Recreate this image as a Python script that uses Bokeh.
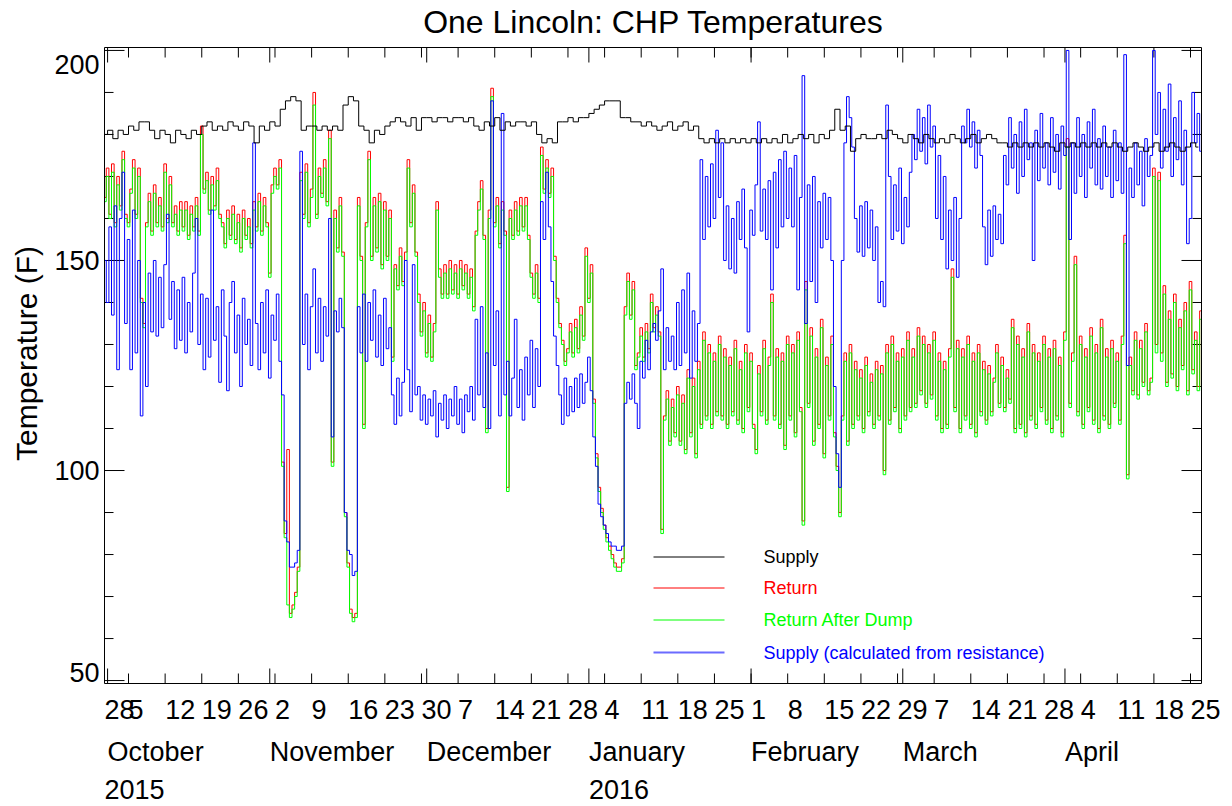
import numpy as np
from bokeh.plotting import figure
from bokeh.models import Range1d, Label
from bokeh.embed import file_html
from bokeh.resources import INLINE

# ---------------- data (days since 2015-09-28 00:00) ----------------
# Supply (black), daily samples starting 2015-09-30 12:00
supply = [
    180, 181, 179, 181, 180, 182, 181, 183, 183, 181,
    179, 181, 180, 178, 181, 180, 179, 181, 180, 182,
    183, 181, 182, 181, 183, 182, 181, 183, 182, 178,
    182, 181, 183, 182, 186, 188, 189, 188, 181, 182,
    182, 181, 182, 181, 182, 181, 187, 189, 188, 182,
    181, 178, 181, 180, 182, 183, 184, 183, 182, 184,
    181, 184, 184, 183, 184, 184, 183, 184, 184, 183,
    184, 182, 181, 183, 182, 184, 181, 183, 182, 183,
    183, 182, 183, 180, 178, 179, 178, 183, 183, 184,
    183, 184, 184, 185, 186, 187, 188, 188, 188, 184,
    184, 183, 183, 182, 183, 182, 181, 182, 183, 181,
    182, 183, 181, 182, 179, 178, 179, 178, 179, 178,
    179, 178, 179, 178, 179, 178, 179, 178, 179, 178,
    180, 178, 179, 180, 179, 180, 178, 180, 179, 181,
    186, 181, 182, 176, 179, 180, 179, 179, 180, 179,
    181, 180, 179, 178, 180, 179, 178, 180, 179, 178,
    179, 178, 180, 179, 178, 179, 180, 178, 179, 180,
    179, 178, 178, 177, 178, 177, 178, 177, 178, 177,
    178, 177, 176, 178, 177, 178, 177, 178, 177, 178,
    177, 178, 177, 178, 177, 176, 177, 178, 177, 176,
    177, 178, 176, 177, 178, 177, 176, 177, 178, 177,
]

# Return (red), half-day samples starting 2015-09-30 12:00
ret = [
    165, 172, 161, 173, 159, 170, 163, 176, 161, 159,
    167, 174, 161, 172, 141, 135, 159, 166, 157, 168,
    159, 165, 158, 173, 160, 170, 159, 163, 157, 164,
    158, 164, 156, 163, 158, 165, 157, 182, 167, 171,
    162, 170, 163, 172, 161, 159, 154, 162, 156, 163,
    155, 161, 153, 162, 156, 160, 154, 164, 158, 166,
    157, 165, 159, 147, 168, 172, 168, 174, 102, 85,
    105, 66, 68, 71, 77, 171, 161, 173, 159, 167,
    190, 161, 172, 166, 174, 164, 181, 102, 162, 153,
    165, 152, 90, 78, 67, 65, 66, 165, 151, 111,
    159, 176, 151, 165, 153, 166, 149, 164, 151, 162,
    127, 149, 144, 153, 145, 152, 174, 159, 168, 152,
    142, 133, 140, 128, 137, 127, 135, 164, 148, 142,
    149, 142, 150, 143, 149, 142, 150, 144, 149, 142,
    148, 139, 157, 164, 169, 156, 110, 162, 191, 159,
    165, 154, 164, 157, 96, 162, 156, 164, 157, 165,
    158, 165, 156, 147, 142, 149, 141, 177, 167, 174,
    166, 172, 151, 141, 135, 131, 126, 129, 135, 128,
    136, 129, 139, 132, 153, 141, 149, 117, 104, 96,
    91, 87, 84, 82, 80, 78, 77, 77, 79, 139,
    147, 137, 145, 125, 128, 134, 127, 135, 129, 142,
    134, 139, 133, 86, 113, 119, 107, 117, 109, 120,
    107, 118, 105, 124, 109, 122, 104, 126, 111, 133,
    113, 130, 111, 128, 114, 132, 113, 129, 111, 127,
    114, 131, 112, 126, 110, 130, 115, 128, 111, 105,
    125, 114, 131, 112, 127, 142, 113, 129, 111, 128,
    106, 132, 113, 130, 109, 133, 115, 88, 145, 116,
    134, 107, 129, 111, 136, 104, 127, 113, 132, 109,
    101, 90, 113, 128, 107, 130, 111, 126, 113, 124,
    110, 127, 114, 123, 111, 126, 113, 125, 100, 130,
    112, 132, 115, 128, 110, 129, 113, 133, 115, 129,
    116, 134, 119, 132, 116, 130, 118, 133, 113, 128,
    110, 126, 111, 129, 148, 115, 131, 110, 129, 113,
    132, 111, 128, 109, 130, 114, 126, 112, 125, 114,
    122, 130, 116, 127, 115, 124, 117, 136, 110, 132,
    111, 129, 109, 135, 113, 130, 111, 128, 115, 132,
    112, 129, 110, 131, 113, 127, 109, 133, 179, 116,
    128, 151, 114, 132, 111, 129, 115, 134, 112, 130,
    110, 136, 113, 129, 111, 131, 116, 128, 112, 132,
    156, 99, 127, 119, 133, 118, 131, 121, 135, 119,
    122, 172, 130, 171, 128, 144, 121, 138, 123, 142,
    120, 136, 125, 140, 119, 145, 124, 133, 120, 138,
]

# Return After Dump (green), half-day samples
ret_dump = [
    164, 170, 160, 171, 158, 168, 162, 174, 160, 158,
    166, 172, 160, 170, 140, 134, 158, 164, 156, 166,
    158, 163, 157, 171, 159, 168, 158, 161, 156, 162,
    157, 162, 155, 161, 157, 163, 156, 180, 166, 169,
    161, 168, 162, 169, 160, 158, 153, 160, 155, 161,
    154, 159, 152, 160, 155, 158, 153, 162, 157, 164,
    156, 163, 158, 146, 166, 170, 167, 172, 101, 84,
    68, 65, 67, 70, 76, 169, 160, 171, 158, 165,
    187, 160, 170, 165, 172, 163, 179, 101, 160, 152,
    163, 151, 89, 77, 66, 64, 65, 163, 150, 110,
    158, 174, 150, 163, 152, 164, 148, 162, 150, 160,
    126, 148, 143, 151, 144, 150, 172, 158, 166, 151,
    140, 132, 138, 127, 135, 126, 133, 162, 146, 141,
    147, 141, 148, 142, 147, 141, 148, 143, 147, 141,
    146, 138, 156, 162, 167, 155, 109, 160, 189, 158,
    163, 153, 162, 156, 95, 160, 155, 162, 156, 163,
    157, 163, 155, 146, 141, 147, 140, 175, 166, 172,
    165, 170, 150, 140, 134, 130, 125, 128, 133, 127,
    134, 128, 137, 131, 151, 140, 147, 116, 103, 95,
    90, 86, 83, 81, 79, 77, 76, 76, 78, 137,
    145, 136, 143, 124, 127, 132, 126, 133, 128, 140,
    133, 137, 132, 85, 112, 117, 106, 115, 108, 118,
    106, 116, 104, 122, 108, 120, 103, 124, 110, 131,
    112, 128, 110, 126, 113, 130, 112, 127, 110, 125,
    113, 129, 111, 124, 109, 128, 114, 126, 110, 104,
    123, 113, 129, 111, 125, 140, 112, 127, 110, 126,
    105, 130, 112, 128, 108, 131, 114, 87, 143, 115,
    132, 106, 127, 110, 134, 103, 125, 112, 130, 108,
    100, 89, 112, 126, 106, 128, 110, 124, 112, 122,
    109, 125, 113, 121, 110, 124, 112, 123, 99, 128,
    111, 130, 114, 126, 109, 127, 112, 131, 114, 127,
    115, 132, 118, 130, 115, 128, 117, 131, 112, 126,
    109, 124, 110, 127, 146, 114, 129, 109, 127, 112,
    130, 110, 126, 108, 128, 113, 124, 111, 123, 113,
    121, 128, 115, 125, 114, 122, 116, 134, 109, 130,
    110, 127, 108, 133, 112, 128, 110, 126, 114, 130,
    111, 127, 109, 129, 112, 125, 108, 131, 177, 115,
    126, 149, 113, 130, 110, 127, 114, 132, 111, 128,
    109, 134, 112, 127, 110, 129, 115, 126, 111, 130,
    154, 98, 125, 118, 131, 117, 129, 120, 133, 118,
    121, 170, 128, 169, 126, 142, 120, 136, 122, 140,
    119, 134, 124, 138, 118, 143, 123, 131, 119, 136,
]

# Supply calculated from resistance (blue), half-day samples
supply_calc = [
    150, 140, 158, 137, 163, 124, 160, 171, 135, 155,
    124, 162, 128, 150, 113, 140, 120, 147, 133, 150,
    132, 146, 134, 149, 161, 136, 145, 129, 143, 131,
    146, 128, 140, 133, 147, 160, 130, 142, 124, 141,
    127, 162, 131, 139, 121, 143, 132, 119, 140, 145,
    128, 137, 120, 141, 130, 136, 125, 178, 135, 124,
    140, 128, 143, 122, 137, 131, 142, 126, 118, 88,
    83, 77, 77, 78, 81, 176, 130, 142, 124, 139,
    148, 128, 141, 126, 139, 132, 160, 108, 138, 133,
    141, 134, 90, 81, 80, 75, 76, 139, 128, 142,
    126, 140, 131, 143, 127, 137, 125, 141, 129, 134,
    118, 111, 122, 113, 121, 150, 124, 114, 149, 118,
    120, 112, 118, 111, 117, 113, 119, 108, 116, 112,
    118, 110, 117, 113, 120, 111, 117, 109, 118, 114,
    120, 112, 136, 118, 139, 115, 128, 110, 188, 125,
    138, 113, 185, 118, 126, 113, 122, 136, 115, 124,
    112, 127, 118, 131, 115, 129, 120, 164, 155, 171,
    158, 145, 132, 125, 118, 111, 122, 113, 120, 114,
    122, 115, 123, 116, 121, 127, 119, 108, 101, 92,
    89, 87, 85, 83, 82, 82, 81, 81, 82, 116,
    121, 117, 123, 116, 110, 126, 122, 131, 124, 133,
    135, 131, 138, 148, 124, 134, 126, 132, 124, 140,
    125, 143, 128, 147, 122, 138, 126, 135, 174, 155,
    170, 158, 173, 160, 181, 165, 178, 150, 163, 148,
    160, 147, 164, 155, 167, 153, 133, 162, 156, 168,
    183, 157, 167, 155, 169, 143, 171, 153, 174, 158,
    176, 160, 172, 158, 175, 143, 165, 194, 135, 168,
    145, 170, 140, 164, 153, 166, 155, 165, 150, 120,
    104, 96, 150, 178, 189, 184, 177, 160, 152, 163,
    151, 164, 153, 162, 150, 158, 140, 145, 139, 187,
    170, 155, 168, 157, 172, 154, 165, 158, 171, 180,
    174, 186, 176, 184, 173, 187, 177, 182, 160, 175,
    155, 170, 148, 162, 150, 165, 146, 160, 182, 178,
    186, 177, 183, 172, 181, 175, 158, 149, 162, 151,
    163, 155, 161, 154, 175, 168, 184, 172, 180, 166,
    183, 170, 186, 174, 178, 150, 181, 169, 185, 172,
    178, 168, 184, 171, 180, 167, 182, 175, 200, 155,
    178, 166, 184, 170, 180, 165, 183, 172, 186, 168,
    179, 167, 182, 170, 177, 165, 181, 169, 178, 166,
    199, 125, 172, 165, 178, 168, 176, 163, 179, 170,
    175, 200, 180, 190, 172, 186, 176, 192, 170, 184,
    174, 188, 168, 181, 154, 160, 190, 178, 185, 176,
]

# ---------------- axis definitions ----------------
week_days = [0, 7, 14, 21, 28, 35, 42, 49, 56, 63, 70, 77, 84, 91, 98, 105,
             112, 119, 126, 133, 140, 147, 154, 161, 168, 175, 182, 189, 196, 203, 210]
week_labels = ["28", "5", "12", "19", "26", "2", "9", "16", "23", "30", "7", "14", "21",
               "28", "4", "11", "18", "25", "1", "8", "15", "22", "29", "7", "14", "21",
               "28", "4", "11", "18", "25"]
month_days = [3, 34, 64, 95, 126, 155, 186]
month_labels = ["October", "November", "December", "January", "February", "March", "April"]
year_days = [-271, 95]
year_labels = ["2015", "2016"]
y_major = [50, 100, 150, 200]
y_minor = [60, 70, 80, 90, 110, 120, 130, 140, 160, 170, 180, 190]

# plotting box (data limits) and its placement on the 1232x806 canvas
X0, X1 = 2.41, 212.1
Y0, Y1 = 49.3, 200.7
W, H = 1232, 806
BOX_L, BOX_R, BOX_T, BOX_B = 104, 1201, 47, 683
PXX = (BOX_R - BOX_L) / (X1 - X0)      # pixels per day
PXY = (BOX_B - BOX_T) / (Y1 - Y0)      # pixels per degree


def cx(px):   # canvas x pixel -> data x
    return X0 + (px - BOX_L) / PXX


def cy(py):   # canvas y pixel -> data y
    return Y1 - (py - BOX_T) / PXY


t_day = 2.5 + 1.0 * np.arange(len(supply))
t_half = 2.5 + 0.5 * np.arange(len(ret))

FONT = "Liberation Sans"

p = figure(width=W, height=H, output_backend="svg", toolbar_location=None,
           x_range=Range1d(cx(0), cx(W)), y_range=Range1d(cy(H), cy(0)),
           min_border=0, x_axis_location=None, y_axis_location=None)
p.background_fill_color = "white"
p.border_fill_color = "white"
p.outline_line_color = None
p.grid.visible = False

# ---------------- ticks (inward, on all four sides) ----------------
def tick_segments():
    x0, y0, x1, y1 = [], [], [], []
    for v, ln in [(v, 20) for v in y_major] + [(v, 9) for v in y_minor]:
        d = ln / PXX
        x0 += [X0, X1]; x1 += [X0 + d, X1 - d]; y0 += [v, v]; y1 += [v, v]
    for v, ln in [(v, 15) for v in month_days] + [(v, 10) for v in week_days if v > X0]:
        d = ln / PXY
        x0 += [v, v]; x1 += [v, v]; y0 += [Y0, Y1]; y1 += [Y0 + d, Y1 - d]
    return x0, y0, x1, y1


tx0, ty0, tx1, ty1 = tick_segments()
p.segment(tx0, ty0, tx1, ty1, line_color="black", line_width=1)

# ---------------- series ----------------
p.step(t_half, ret, mode="center", line_color="#ff0000", line_width=1)
p.step(t_half, ret_dump, mode="center", line_color="#00ff00", line_width=1)
p.step(t_half, supply_calc, mode="center", line_color="#0000ff", line_width=1)
p.step(t_day, supply, mode="center", line_color="black", line_width=1)

# plot box
p.quad(left=[X0], right=[X1], bottom=[Y0], top=[Y1], fill_color=None,
       line_color="black", line_width=1)

# ---------------- legend ----------------
legend_entries = ["Supply", "Return", "Return After Dump", "Supply (calculated from resistance)"]
legend_line_colors = ["black", "#ff0000", "#00ff00", "#6b6bff"]
legend_text_colors = ["black", "#ff0000", "#00ff00", "#0000ff"]
legend_widths = [1, 1, 1, 2]
legend_rows_px = [556.5, 587.5, 619.5, 652]
for lab, lc, tc, lw, ry in zip(legend_entries, legend_line_colors, legend_text_colors,
                               legend_widths, legend_rows_px):
    p.line([cx(653), cx(724)], [cy(ry), cy(ry)], line_color=lc, line_width=lw)
    p.add_layout(Label(x=cx(763), y=cy(ry), text=lab, text_align="left",
                       text_baseline="middle", text_font=FONT, text_font_size="18px",
                       text_color=tc))

# ---------------- texts ----------------
TXT = dict(text_font=FONT, text_color="black", text_baseline="middle")

p.add_layout(Label(x=cx(653), y=cy(21), text="One Lincoln: CHP Temperatures",
                   text_align="center", text_font_size="32px", **TXT))
p.add_layout(Label(x=cx(26), y=cy(353), angle=np.pi / 2, text="Temperature (F)",
                   text_align="center", text_font_size="30px", **TXT))

# y tick labels (extreme labels pulled inward, in pixels; positive = up)
y_label_shift_px = {50: 8, 100: 0, 150: 0, 200: -14}
for v in y_major:
    p.add_layout(Label(x=cx(99), y=v + y_label_shift_px[v] / PXY, text=str(v),
                       text_align="right", text_font_size="27px", **TXT))

for d, lab in zip(week_days, week_labels):
    p.add_layout(Label(x=max(d, X0), y=cy(709), text=lab, text_align="left",
                       text_font_size="27px", **TXT))
for d, lab in zip(month_days, month_labels):
    p.add_layout(Label(x=max(d, X0), y=cy(751), text=lab, text_align="left",
                       text_font_size="27px", **TXT))
for d, lab in zip(year_days, year_labels):
    p.add_layout(Label(x=max(d, X0), y=cy(789), text=lab, text_align="left",
                       text_font_size="27px", **TXT))

open("out.html", "w").write(file_html(p, INLINE))
